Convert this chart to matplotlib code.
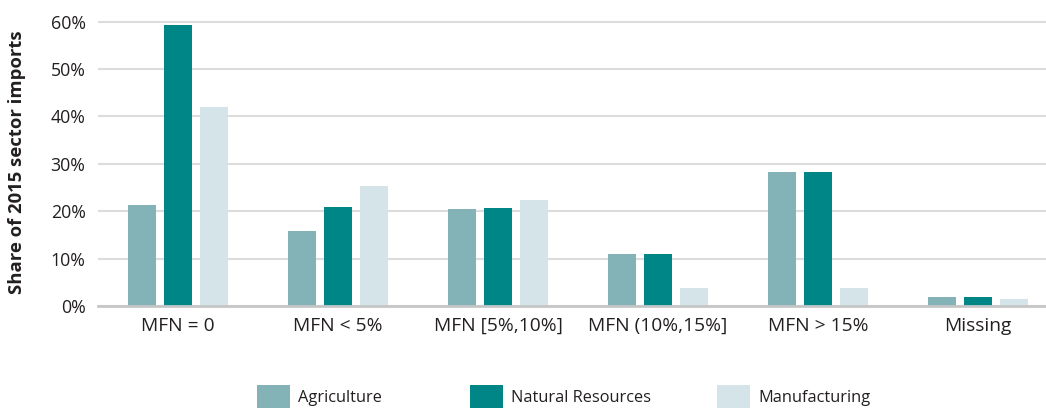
import numpy as np
import matplotlib
matplotlib.use("Agg")
import matplotlib.pyplot as plt
from matplotlib.patches import Patch

plt.rcParams['font.family'] = ['Open Sans', 'DejaVu Sans']

# Data (share of 2015 sector imports, %)
categories = ['MFN = 0', 'MFN < 5%', 'MFN [5%,10%]', 'MFN (10%,15%]', 'MFN > 15%', 'Missing']
agriculture = [21.4, 15.9, 20.5, 11.0, 28.3, 2.0]
natural_resources = [59.4, 20.9, 20.7, 11.0, 28.3, 2.0]
manufacturing = [42.1, 25.4, 22.4, 3.8, 3.9, 1.5]

series_names = ['Agriculture', 'Natural Resources', 'Manufacturing']
colors = ['#84b3b7', '#008686', '#d5e4e8']
text_color = '#231f20'

fig = plt.figure(figsize=(10.46, 4.08), dpi=100)
ax = fig.add_axes([98 / 1046, 1 - 306 / 408, 1 - 98 / 1046, (306 - 17) / 408])

x = np.arange(len(categories))
step = 0.222
width = 0.175
for i, (vals, name, col) in enumerate(zip([agriculture, natural_resources, manufacturing], series_names, colors)):
    ax.bar(x + (i - 1) * step, vals, width, color=col, label=name, zorder=3)

ax.set_xlim(-0.5, 5.425)
ax.set_ylim(0, 61)
ax.set_yticks([0, 10, 20, 30, 40, 50, 60])
ax.set_yticklabels([f'{v}%' for v in [0, 10, 20, 30, 40, 50, 60]])
ax.set_xticks(x)
ax.set_xticklabels(categories)
ax.tick_params(axis='both', length=0, colors=text_color)
ax.tick_params(axis='y', pad=9, labelsize=12.8)
ax.tick_params(axis='x', pad=8, labelsize=13.8)

ax.grid(axis='y', color='#dcdcdc', linewidth=1.5, zorder=0)
for s in ['top', 'right', 'left']:
    ax.spines[s].set_visible(False)
ax.spines['bottom'].set_color('#c6c6c6')
ax.spines['bottom'].set_linewidth(2)
ax.spines['bottom'].set_zorder(4)

fig.text(17 / 1046, 1 - 162 / 408, 'Share of 2015 sector imports', rotation=90,
         ha='center', va='center', fontsize=13.3, fontweight='bold', color=text_color)

# Legend: one entry per position, as in the reference
legend_x = [257, 470, 717]
for name, col, lx in zip(series_names, colors, legend_x):
    leg = fig.legend(handles=[Patch(facecolor=col, label=name)], loc='center left',
                     bbox_to_anchor=(lx / 1046, 1 - 397 / 408), frameon=False,
                     handlelength=2.0, handleheight=1.8, handletextpad=0.5,
                     borderaxespad=0, borderpad=0, fontsize=11.8)
    for t in leg.get_texts():
        t.set_color(text_color)

fig.savefig('out.png', dpi=100)
